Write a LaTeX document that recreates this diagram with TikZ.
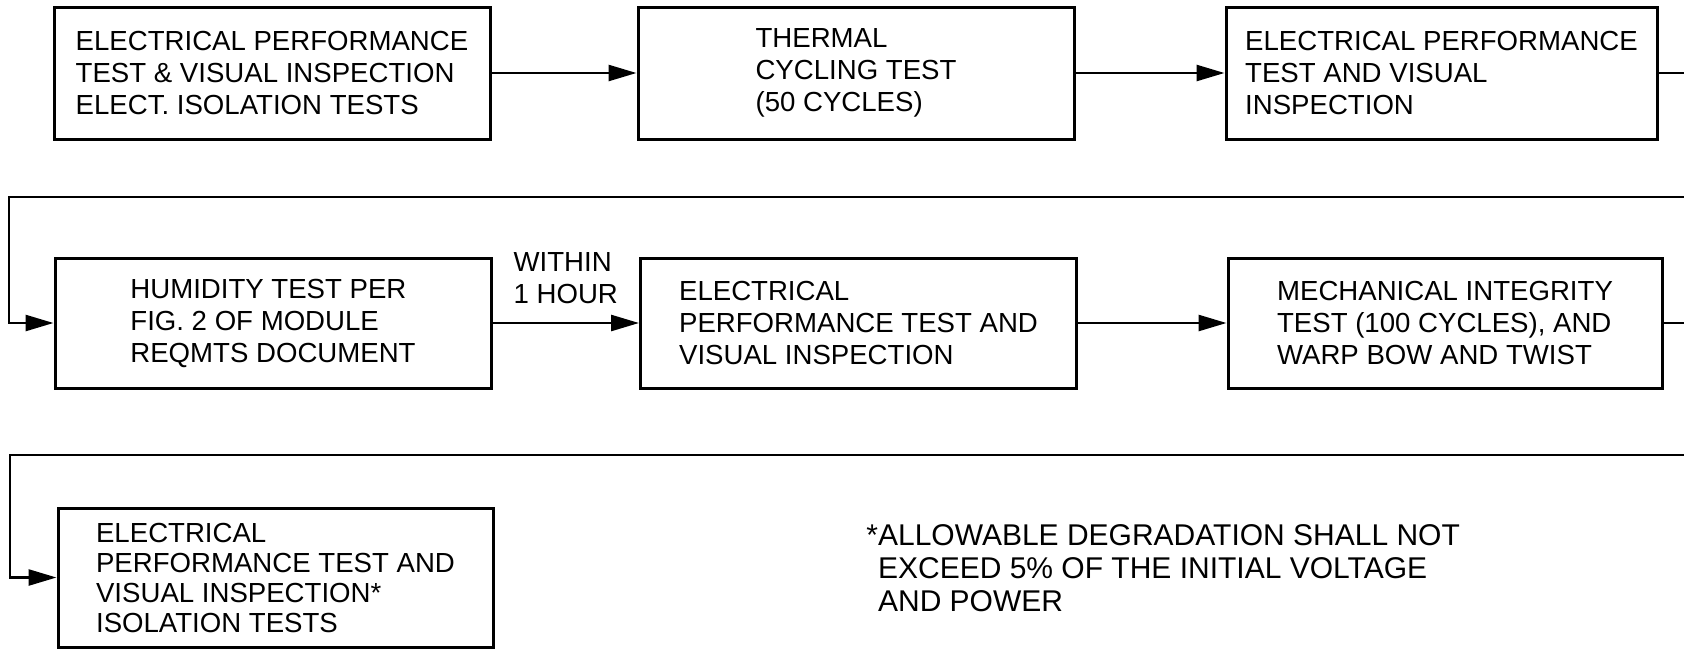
\documentclass[tikz,border=0pt]{standalone}
\usepackage{fontspec}
\setmainfont{Liberation Sans}
\usetikzlibrary{arrows.meta, positioning}

\begin{document}
\begin{tikzpicture}[
			x=0.5pt, y=-0.5pt,
			testbox/.style={rectangle, draw=black, line width=1.5pt, minimum width=218pt, minimum height=66pt, align=left, inner sep=0pt, font=\fontsize{13.8}{16}\selectfont},
			arrow/.style={-{Triangle[length=14pt, width=8pt]}, line width=1.3pt, draw=black},
			note/.style={align=left, inner sep=0pt, font=\fontsize{15}{16.5}\selectfont}
			]
			\clip (0,0) rectangle (1684,659);
			
			% Row 1
			\node[testbox] (b1) at (272,73) {ELECTRICAL PERFORMANCE\\TEST \& VISUAL INSPECTION\\ELECT. ISOLATION TESTS};
			\node[testbox] (b2) at (856,73) {THERMAL\\CYCLING TEST\\(50 CYCLES)};
			\node[testbox, minimum width=215.5pt] (b3) at (1441.5,73) {ELECTRICAL PERFORMANCE\\TEST AND VISUAL\\INSPECTION};
			
			% Row 2
			\node[testbox, minimum height=65pt] (b4) at (273,323) {HUMIDITY TEST PER\\FIG. 2 OF MODULE\\REQMTS DOCUMENT};
			\node[testbox, minimum height=65pt] (b5) at (858.5,323) {ELECTRICAL\\PERFORMANCE TEST AND\\VISUAL INSPECTION};
			\node[testbox, minimum width=217pt, minimum height=65pt] (b6) at (1445,323) {MECHANICAL INTEGRITY\\TEST (100 CYCLES), AND\\WARP BOW AND TWIST};
			
			% Row 3
			\node[testbox, minimum width=217.5pt, minimum height=69.5pt, font=\fontsize{13.8}{15}\selectfont] (b7) at (275.5,577.5) {ELECTRICAL\\PERFORMANCE TEST AND\\VISUAL INSPECTION*\\ISOLATION TESTS};
			
			% Note
			\node[note, anchor=north west] (remark) at (866,524) {*ALLOWABLE DEGRADATION SHALL NOT\\\hphantom{*}EXCEED 5\% OF THE INITIAL VOLTAGE\\\hphantom{*}AND POWER};
			
			% Return lines
			\coordinate (r1) at (1700,197);
			\coordinate (l1) at (9,197);
			\coordinate (r2) at (1700,455);
			\coordinate (l2) at (10,455);
			
			% Arrows
			\draw[arrow] (b1) -- (b2);
			\draw[arrow] (b2) -- (b3);
			\draw[arrow] (b3.east) -| (r1) -- (l1) |- (b4.west);
			\draw[arrow] (b4) -- node[above=9pt, inner sep=0pt, align=left, font=\fontsize{13.8}{16}\selectfont] (delay) {WITHIN\\1 HOUR} (b5);
			\draw[arrow] (b5) -- (b6);
			\draw[arrow] (b6.east) -| (r2) -- (l2) |- (b7.west);
			
		\end{tikzpicture}
\end{document}
